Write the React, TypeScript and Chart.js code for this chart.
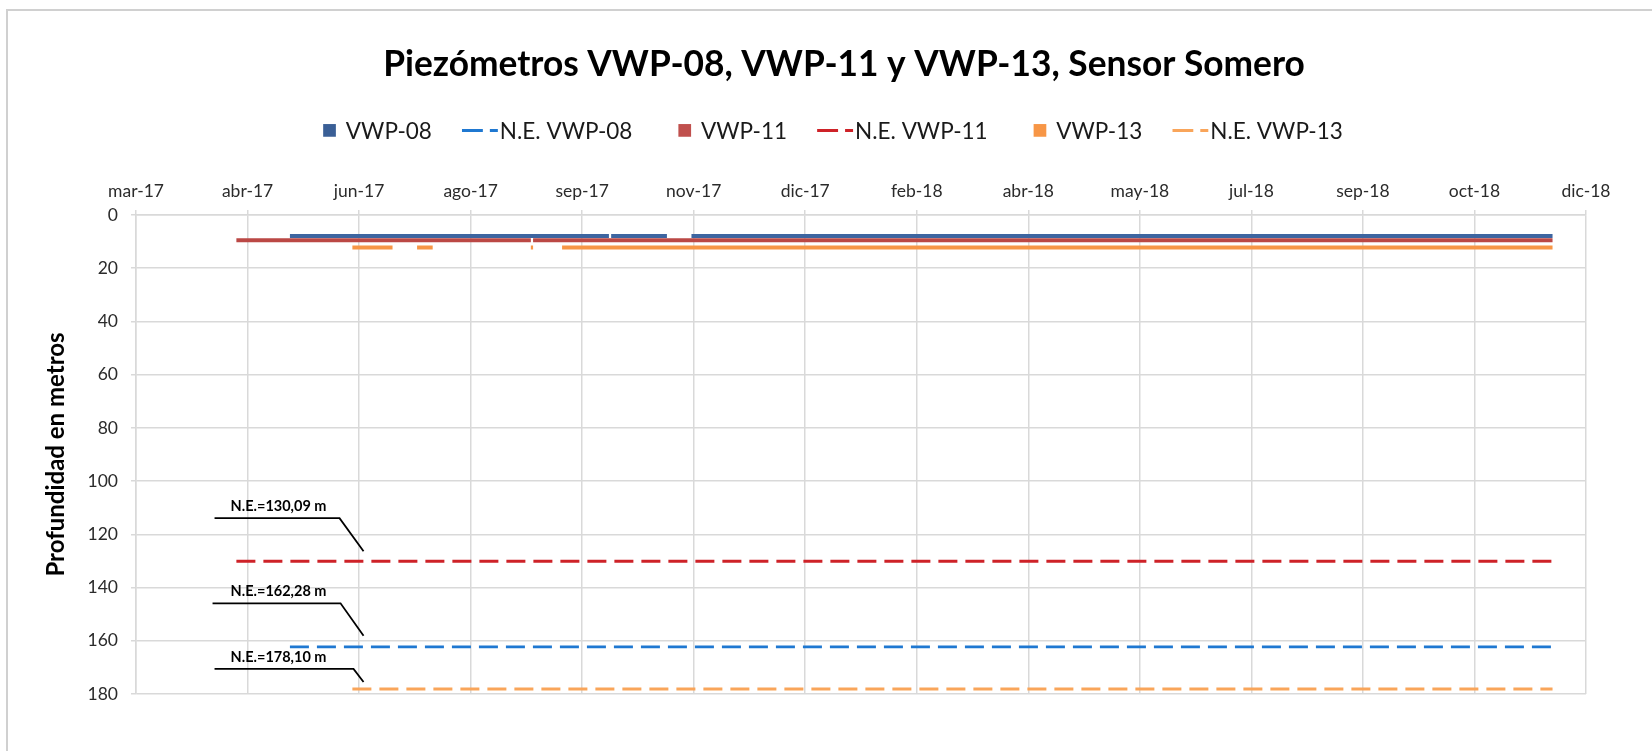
import React, { useEffect, useRef } from 'react';
import { Chart, registerables } from 'chart.js';

Chart.register(...registerables);

// ---------- DATA ----------
const TITLE = 'Piezómetros VWP-08, VWP-11 y VWP-13, Sensor Somero';
const Y_TITLE = 'Profundidad en metros';

const AXIS_START = '2017-03-05';
const TICK_STEP_DAYS = 50;
const X_TICK_LABELS = ['mar-17', 'abr-17', 'jun-17', 'ago-17', 'sep-17', 'nov-17', 'dic-17', 'feb-18', 'abr-18', 'may-18', 'jul-18', 'sep-18', 'oct-18', 'dic-18'];
const Y_MIN = 0;
const Y_MAX = 180;
const Y_STEP = 20;

const SERIES_LABELS = ['VWP-08', 'N.E. VWP-08', 'VWP-11', 'N.E. VWP-11', 'VWP-13', 'N.E. VWP-13'];

// measured depth (m); null = no data (gap)
const VWP08_DATES = ['2017-05-13', '2017-10-03', '2017-10-03', '2017-10-04', '2017-10-29', '2017-11-01', '2017-11-09', '2018-11-30'];
const VWP08_DEPTH = [7.9, 7.9, null, 7.9, 7.9, null, 7.9, 7.9];

const VWP11_DATES = ['2017-04-19', '2017-08-29', '2017-08-29', '2017-08-30', '2018-11-30'];
const VWP11_DEPTH = [9.5, 9.5, null, 9.5, 9.5];

const VWP13_DATES = ['2017-06-10', '2017-06-28', '2017-07-01', '2017-07-09', '2017-07-16', '2017-08-01', '2017-08-29', '2017-08-30', '2017-09-01', '2017-09-12', '2018-11-30'];
const VWP13_DEPTH = [12.2, 12.2, null, 12.2, 12.2, null, 12.2, 12.2, null, 12.2, 12.2];

const NE_VWP08_DATES = ['2017-05-13', '2018-11-30'];
const NE_VWP08_DEPTH = [162.28, 162.28];
const NE_VWP11_DATES = ['2017-04-19', '2018-11-30'];
const NE_VWP11_DEPTH = [130.09, 130.09];
const NE_VWP13_DATES = ['2017-06-10', '2018-11-30'];
const NE_VWP13_DEPTH = [178.1, 178.1];

const NE_CALLOUT_TEXTS = ['N.E.=130,09 m', 'N.E.=162,28 m', 'N.E.=178,10 m'];
const NE_CALLOUT_VALUES = [130.09, 162.28, 178.1];
const NE_CALLOUT_DATE = '2017-06-15';

// ---------- helpers ----------
const DAY = 86400000;
const toDay = (d: string) => (Date.parse(d) - Date.parse(AXIS_START)) / DAY;
const toPoints = (dates: string[], vals: (number | null)[]) => dates.map((d, i) => ({ x: toDay(d), y: vals[i] }));

const FONT = 'Lato, "Open Sans", sans-serif';

const COLORS = {
  vwp08: '#3D65A0', vwp08Legend: '#3A5F96',
  vwp11: '#BB4845', vwp11Legend: '#C0504D',
  vwp13: '#F79646', vwp13Legend: '#F79646',
  ne08: '#1F78D1', ne11: '#CE2228', ne13: '#F9A55A',
};

const CALLOUT_GEOMETRY = [
  { endDy: -10, elbowDx: -24, elbowDy: -43, leftDx: -149 },
  { endDy: -11, elbowDx: -23, elbowDy: -43.5, leftDx: -151 },
  { endDy: -7, elbowDx: -10, elbowDy: -20, leftDx: -149 },
];

const overlayPlugin = {
  id: 'overlay',
  afterDatasetsDraw(chart: any) {
    const ctx = chart.ctx;
    const xs = chart.scales.x;
    const ys = chart.scales.y;
    const endX = xs.getPixelForValue(toDay(NE_CALLOUT_DATE));
    ctx.save();
    NE_CALLOUT_TEXTS.forEach((t, i) => {
      const g = CALLOUT_GEOMETRY[i];
      const yv = ys.getPixelForValue(NE_CALLOUT_VALUES[i]);
      const ey = yv + g.endDy;
      const elY = yv + g.elbowDy;
      ctx.beginPath();
      ctx.strokeStyle = '#000';
      ctx.lineWidth = 1.8;
      ctx.moveTo(endX + g.leftDx, elY);
      ctx.lineTo(endX + g.elbowDx, elY);
      ctx.lineTo(endX, ey);
      ctx.stroke();
      ctx.fillStyle = '#000';
      ctx.font = `bold 14.5px ${FONT}`;
      ctx.textAlign = 'center';
      ctx.textBaseline = 'alphabetic';
      ctx.fillText(t, endX - 85, elY - 7);
    });
    ctx.restore();
  },
  afterDraw(chart: any) {
    const ctx = chart.ctx;
    ctx.save();
    // title
    ctx.fillStyle = '#000';
    ctx.font = `bold 35.3px ${FONT}`;
    ctx.textAlign = 'center';
    ctx.textBaseline = 'alphabetic';
    ctx.fillText(TITLE, 844, 76);

    // legend
    const items = chart.data.datasets.map((ds: any) => ds);
    ctx.font = `22.5px ${FONT}`;
    const layout: any[] = [];
    let total = 0;
    items.forEach((ds: any, i: number) => {
      const isSquare = ds.legendKind === 'square';
      const sw = isSquare ? 12.7 : 36;
      const gap = isSquare ? 10 : 2;
      const tw = ctx.measureText(ds.label).width;
      const before = i === 0 ? 0 : (isSquare ? 46 : 30);
      layout.push({ ds, isSquare, sw, gap, tw, before });
      total += before + sw + gap + tw;
    });
    let x = 833 - total / 2;
    const cy = 130.4;
    layout.forEach((it) => {
      x += it.before;
      if (it.isSquare) {
        ctx.fillStyle = it.ds.legendColor;
        ctx.fillRect(x, cy - 6.35, it.sw, 12.7);
      } else {
        ctx.save();
        ctx.beginPath();
        ctx.rect(x, cy - 5, it.sw, 10);
        ctx.clip();
        ctx.strokeStyle = it.ds.borderColor;
        ctx.lineWidth = 3;
        ctx.setLineDash([21, 7]);
        ctx.beginPath();
        ctx.moveTo(x, cy);
        ctx.lineTo(x + it.sw + 20, cy);
        ctx.stroke();
        ctx.restore();
      }
      x += it.sw + it.gap;
      ctx.fillStyle = '#1a1a1a';
      ctx.textAlign = 'left';
      ctx.textBaseline = 'alphabetic';
      ctx.fillText(it.ds.label, x, 139);
      x += it.tw;
    });
    ctx.restore();
  },
};

export default function App() {
  const ref = useRef<HTMLCanvasElement | null>(null);

  useEffect(() => {
    if (!ref.current) return;
    const thick = (label: string, color: string, legendColor: string, data: any[]) => ({
      label, data, borderColor: color, backgroundColor: color, borderWidth: 4, pointRadius: 0,
      spanGaps: false, fill: false, tension: 0, borderCapStyle: 'butt', legendKind: 'square', legendColor,
    });
    const dashed = (label: string, color: string, data: any[], width: number) => ({
      label, data, borderColor: color, backgroundColor: color, borderWidth: width, pointRadius: 0,
      spanGaps: false, fill: false, tension: 0, borderDash: [19, 8], borderCapStyle: 'butt', legendKind: 'line', legendColor: color,
    });

    const gridColor = '#D9D9D9';
    const lastTick = TICK_STEP_DAYS * (X_TICK_LABELS.length - 1);

    const chart = new Chart(ref.current, {
      type: 'line',
      data: {
        datasets: [
          thick(SERIES_LABELS[0], COLORS.vwp08, COLORS.vwp08Legend, toPoints(VWP08_DATES, VWP08_DEPTH)),
          dashed(SERIES_LABELS[1], COLORS.ne08, toPoints(NE_VWP08_DATES, NE_VWP08_DEPTH), 2.6),
          thick(SERIES_LABELS[2], COLORS.vwp11, COLORS.vwp11Legend, toPoints(VWP11_DATES, VWP11_DEPTH)),
          dashed(SERIES_LABELS[3], COLORS.ne11, toPoints(NE_VWP11_DATES, NE_VWP11_DEPTH), 3),
          thick(SERIES_LABELS[4], COLORS.vwp13, COLORS.vwp13Legend, toPoints(VWP13_DATES, VWP13_DEPTH)),
          dashed(SERIES_LABELS[5], COLORS.ne13, toPoints(NE_VWP13_DATES, NE_VWP13_DEPTH), 3),
        ] as any,
      },
      options: {
        animation: false,
        responsive: false,
        maintainAspectRatio: false,
        parsing: false as any,
        normalized: true,
        layout: { padding: { left: 0, top: 0, right: 66, bottom: 57 } },
        plugins: {
          legend: { display: false },
          title: { display: false },
          tooltip: { enabled: false },
        },
        scales: {
          x: {
            type: 'linear',
            position: 'top',
            min: 0,
            max: lastTick,
            afterBuildTicks: (scale: any) => {
              scale.ticks = X_TICK_LABELS.map((_, i) => ({ value: i * TICK_STEP_DAYS }));
            },
            afterFit: (scale: any) => { scale.height = 215; },
            ticks: {
              autoSkip: false,
              maxRotation: 0,
              padding: 8,
              color: '#2b2b2b',
              font: { family: FONT, size: 17.5 },
              callback: (_v: any, i: number) => X_TICK_LABELS[i],
            },
            grid: { color: gridColor, lineWidth: 1.5, tickLength: 5, drawTicks: true },
            border: { display: true, color: gridColor, width: 1.5 },
          },
          y: {
            type: 'linear',
            reverse: true,
            min: Y_MIN,
            max: Y_MAX,
            afterFit: (scale: any) => { scale.width = 136; },
            ticks: {
              stepSize: Y_STEP,
              padding: 13,
              color: '#2b2b2b',
              font: { family: FONT, size: 17.5 },
            },
            grid: { color: gridColor, lineWidth: 1.5, tickLength: 5, drawTicks: true },
            border: { display: true, color: gridColor, width: 1.5 },
            title: {
              display: true,
              text: Y_TITLE,
              color: '#000',
              font: { family: FONT, size: 24, weight: 'bold' },
              padding: { top: 42, bottom: 0 },
            },
          },
        },
      },
      plugins: [overlayPlugin],
    } as any);
    return () => chart.destroy();
  }, []);

  return (
    <div style={{ position: 'fixed', left: 0, top: 0, width: 1652, height: 751, overflow: 'hidden', background: '#fff' }}>
      <div style={{ position: 'absolute', left: 6, top: 9, width: 1800, height: 900, border: '2px solid #D0D0D0', boxSizing: 'border-box' }} />
      <canvas ref={ref} width={1652} height={751} style={{ position: 'absolute', left: 0, top: 0, width: 1652, height: 751 }} />
    </div>
  );
}
